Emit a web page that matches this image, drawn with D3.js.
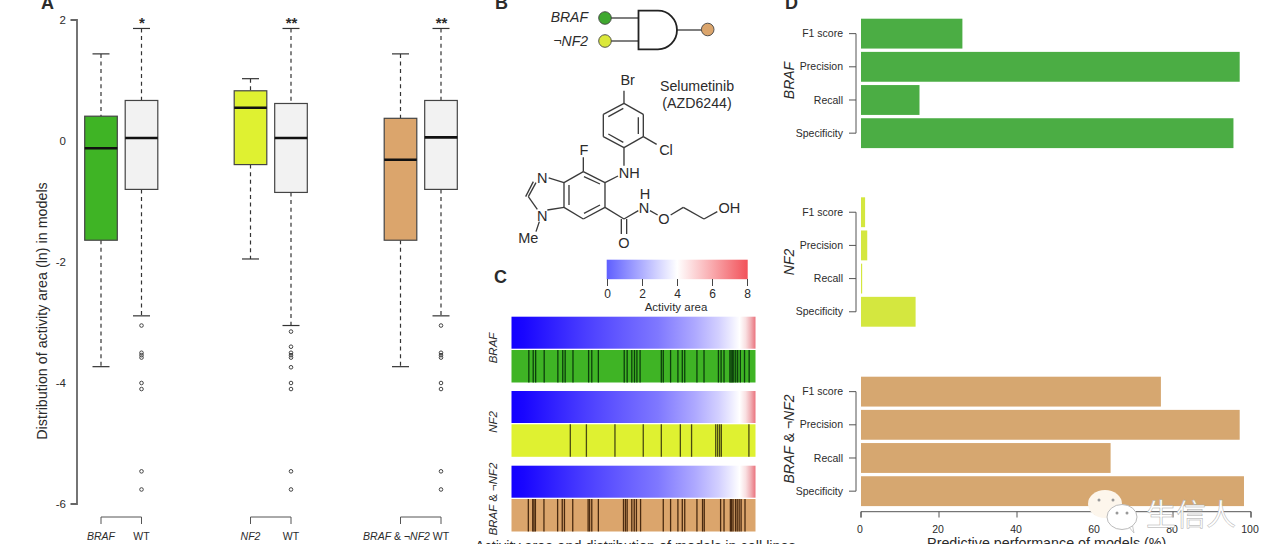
<!DOCTYPE html>
<html><head><meta charset="utf-8">
<script src="https://cdn.jsdelivr.net/npm/d3@7"></script>
<style>html,body{margin:0;padding:0;background:#fff;overflow:hidden}svg{display:block}text{font-family:"Liberation Sans",Arial,sans-serif;fill:#2b2b2b}</style>
</head><body><svg id="c" width="1280" height="544"></svg>
<script>
// ---- Panel A data
const boxNames=["BRAF","WT","NF2","WT","BRAF & ¬NF2","WT"];
const boxFills=["#3fb425","#f2f2f2","#dff131","#f2f2f2","#dba56c","#f2f2f2"];
const boxLow=[-3.73,-2.89,-1.95,-3.05,-3.73,-2.89];
const boxQ1=[-1.64,-0.80,-0.39,-0.85,-1.64,-0.80];
const boxMed=[-0.12,0.05,0.55,0.05,-0.31,0.06];
const boxQ3=[0.41,0.67,0.83,0.62,0.375,0.67];
const boxHigh=[1.44,1.86,1.03,1.86,1.44,1.86];
const outliersWT1=[-3.05,-3.50,-3.54,-3.58,-4.0,-4.10,-5.46,-5.76];
const outliersWT2=[-3.15,-3.40,-3.50,-3.54,-3.58,-3.74,-4.0,-4.10,-5.46,-5.76];
const stars=["*","**","**"];
const yTicksA=[-6,-4,-2,0,2];
// ---- Panel C data
const barLabelsC=["BRAF","NF2","BRAF & ¬NF2"];
const barColorsC=["#3fb425","#dff131","#dba56c"];
const barTickColorsC=["#0c3f0c","#4a4a12","#4a2a10"];
const ranksBRAF=[7.1,8.9,9.9,13.4,19,21,22,25.2,31.6,32.9,35.6,46.2,47.4,49.3,50.4,51.4,52.7,61.4,62.2,65.2,68.2,70,71,76,78.9,84.8,85.9,87.1,89.5,90,90.5,91.1,91.9,92.7,93.8,95.5,97.4];
const ranksNF2=[24.1,30.7,42.4,54,61.4,69.2,73.8,83.7,84.5,85.3,86,97.3];
const ranksBoth=[6.9,8.7,9.2,9.8,13.3,18.9,20.8,21.7,25.1,31.4,32,32.9,35.6,45.9,46.7,47.4,49.3,50.3,51.2,52.9,62.2,65.2,68.2,70,71,76,78.3,79,85.7,87.1,89.7,90.2,90.8,91.8,92.5,93.3,94.1,95.7];
const heatRank=[0,5,30,60,75,85,90,93.5,96,98,100];
const heatActivity=[0,0.1,1.0,2.0,2.7,3.3,3.7,4.0,4.8,6.0,7.2];
const scaleTicks=[0,2,4,6,8];
// ---- Panel D data
const metrics=["F1 score","Precision","Recall","Specificity"];
const perfBRAF=[26,97.1,15,95.5];
const perfNF2=[1.05,1.6,0.3,14];
const perfBoth=[76.9,97.1,64,98.2];
const perfColors=["#4bad44","#d4e73f","#d6a770"];
const perfTicks=[0,20,40,60,80,100];

const svg=d3.select("#c");
function txt(g,x,y,s,o={}){const t=g.append("text").attr("x",x).attr("y",y).text(s).attr("font-size",o.size||10).attr("text-anchor",o.anchor||"middle");
 if(o.italic)t.attr("font-style","italic");if(o.bold)t.attr("font-weight","bold");if(o.rot!=null)t.attr("transform",`rotate(${o.rot} ${x} ${y})`);return t;}
function geneLabel(g,tf,size){const t=g.append("text").attr("transform",tf).attr("text-anchor","middle").attr("font-size",size);
 t.append("tspan").attr("font-style","italic").text("BRAF");t.append("tspan").text(" & ");t.append("tspan").attr("font-style","italic").text("¬NF2");return t;}

// ===== Panel A
const A=svg.append("g");
const yA=d3.scaleLinear().domain([-6,2]).range([504,20]);
const xA=d3.scaleOrdinal().domain([0,1,2,3,4,5]).range([101,141.5,250.5,291,400.5,441]);
A.append("path").attr("d",`M70.5,${yA(2)}H77V${yA(-6)}H70.5`).attr("fill","none").attr("stroke","#666").attr("stroke-width",1.8);
yTicksA.forEach(v=>txt(A,66,yA(v)+3.5,v,{size:11.5,anchor:"end"}));
txt(A,47,311,"Distribution of activity area (ln) in models",{size:14.3,rot:-90});
boxNames.forEach((n,i)=>{
 const cx=xA(i),hw=16.3,capw=8.5,g=A.append("g"),dash="4,3.6";
 g.append("line").attr("x1",cx).attr("x2",cx).attr("y1",yA(boxHigh[i])).attr("y2",yA(boxQ3[i])).attr("stroke","#333").attr("stroke-width",1.2).attr("stroke-dasharray",dash);
 g.append("line").attr("x1",cx).attr("x2",cx).attr("y1",yA(boxQ1[i])).attr("y2",yA(boxLow[i])).attr("stroke","#333").attr("stroke-width",1.2).attr("stroke-dasharray",dash);
 [boxHigh[i],boxLow[i]].forEach(v=>g.append("line").attr("x1",cx-capw).attr("x2",cx+capw).attr("y1",yA(v)).attr("y2",yA(v)).attr("stroke","#333").attr("stroke-width",1.2));
 g.append("rect").attr("x",cx-hw).attr("width",2*hw).attr("y",yA(boxQ3[i])).attr("height",yA(boxQ1[i])-yA(boxQ3[i])).attr("fill",boxFills[i]).attr("stroke","#444").attr("stroke-width",1.2);
 g.append("line").attr("x1",cx-hw).attr("x2",cx+hw).attr("y1",yA(boxMed[i])).attr("y2",yA(boxMed[i])).attr("stroke","#111").attr("stroke-width",2.6);
 if(i%2==1){
  const o=i==3?outliersWT2:outliersWT1;
  g.selectAll("circle").data(o).join("circle").attr("cx",cx).attr("cy",d=>yA(d)).attr("r",1.8).attr("fill","none").attr("stroke","#444").attr("stroke-width",1);
  txt(g,cx+0.5,28.3,stars[(i-1)/2],{size:15,bold:true});
  txt(A,cx,540,"WT",{size:10.5});
 }
});
[0,2,4].forEach(i=>A.append("path").attr("d",`M${xA(i)},524V517H${xA(i+1)}V524`).attr("fill","none").attr("stroke","#555").attr("stroke-width",1));
txt(A,101,540,boxNames[0],{size:10.5,italic:true});
txt(A,250.5,540,boxNames[2],{size:10.5,italic:true});
geneLabel(A,"translate(396.5,540)",10.5);
[["A",41,9],["B",495,9],["C",494,283],["D",785,9]].forEach(p=>txt(svg,p[1],p[2],p[0],{size:18,bold:true,anchor:"start"}));

// ===== Panel B gate
const B=svg.append("g");
B.append("path").attr("d","M611,18H638M611,41H638M677,30H702").attr("stroke","#555").attr("stroke-width",1.3).attr("fill","none");
B.append("path").attr("d","M638.5,10.7H658A19,19.3 0 0 1 658,49.3H638.5Z").attr("fill","#fff").attr("stroke","#222").attr("stroke-width",1.8);
[[605,18,"#3fa82f"],[605,41,"#dbe83a"],[707.7,29.5,"#dba56c"]].forEach(c=>B.append("circle").attr("cx",c[0]).attr("cy",c[1]).attr("r",6.3).attr("fill",c[2]).attr("stroke","#444").attr("stroke-width",.9));
txt(B,588,22,"BRAF",{size:14,italic:true,anchor:"end"});
txt(B,588,45.7,"¬NF2",{size:14,italic:true,anchor:"end"});
const mol=B.append("g").attr("transform","translate(480,0) scale(0.3333)").attr("fill","none").attr("stroke","#3a3a3a").attr("stroke-width",4);
const bonds=[[432,272,432,310],[432,310,490,343],[490,343,490,410],[490,410,432,443],[432,443,370,410],[370,410,370,343],[370,343,432,310],
[385,350,430,325],[475,352,475,402],[430,427,385,402],
[490,410,530,433],[432,443,432,497],[414,528,375,548],[375,548,310,515],[310,515,252,548],[252,548,252,622],[252,622,310,657],[310,657,375,622],[375,622,375,548],
[360,552,312,530],[267,555,267,615],[312,640,360,615],
[310,515,310,472],[252,548,206,534],[168,548,145,590],[160,545,137,590],[145,590,172,628],[202,630,252,622],[178,665,168,695],
[375,622,432,657],[424,657,424,702],[440,657,440,702],[432,657,475,632],[510,632,533,645],[572,645,610,622],[610,622,672,657],[672,657,712,635]];
mol.selectAll("line").data(bonds).join("line").attr("x1",d=>d[0]).attr("y1",d=>d[1]).attr("x2",d=>d[2]).attr("y2",d=>d[3]);
[[443,256,"Br"],[558,466,"Cl"],[312,466,"F"],[448,534,"NH"],[187,548,"N"],[187,663,"N"],[145,728,"Me"],[492,638,"N"],[495,598,"H"],[552,671,"O"],[432,743,"O"],[748,638,"OH"]].forEach(a=>{
 B.append("text").attr("x",480+a[0]/3).attr("y",a[1]/3).attr("text-anchor","middle").attr("font-size",14.5).text(a[2]);});
txt(B,697,91,"Selumetinib",{size:14.2});
txt(B,697,108,"(AZD6244)",{size:14.2});

// ===== Panel C
const C=svg.append("g");
const defs=svg.append("defs");
const cbar=d3.scaleLinear().domain([0,4,8]).range(["#5f5fff","#ffffff","#f2525a"]);
const heat=d3.scaleLinear().domain([0,1,2,3,4,6,8]).range(["#1300ff","#4a3dff","#7f78ff","#c0bcff","#ffffff","#f0b0b5","#e84a5a"]);
const gc=defs.append("linearGradient").attr("id","gbar");
scaleTicks.concat([1,3,5,7]).sort((a,b)=>a-b).forEach(v=>gc.append("stop").attr("offset",(v/8*100)+"%").attr("stop-color",cbar(v)));
const xBar=d3.scaleLinear().domain([0,8]).range([607.5,747.5]);
C.append("rect").attr("x",606.7).attr("y",259.7).attr("width",141).attr("height",19.5).attr("fill","url(#gbar)");
scaleTicks.forEach(v=>{C.append("line").attr("x1",xBar(v)).attr("x2",xBar(v)).attr("y1",279).attr("y2",286).attr("stroke","#444").attr("stroke-width",1);
 txt(C,xBar(v),298,v,{size:12});});
txt(C,676,310.5,"Activity area",{size:11.5});
const gh=defs.append("linearGradient").attr("id","gheat");
heatRank.forEach((r,i)=>gh.append("stop").attr("offset",r+"%").attr("stop-color",heat(heatActivity[i])));
const xRank=d3.scaleLinear().domain([0,100]).range([511.5,755.5]);
const rowTops=[316.7,391,465.7];
[ranksBRAF,ranksNF2,ranksBoth].forEach((ranks,i)=>{
 const t=rowTops[i];
 C.append("rect").attr("x",xRank(0)).attr("y",t).attr("width",xRank(100)-xRank(0)).attr("height",32).attr("fill","url(#gheat)");
 C.append("rect").attr("x",xRank(0)).attr("y",t+33.3).attr("width",xRank(100)-xRank(0)).attr("height",32.5).attr("fill",barColorsC[i]);
 C.append("g").selectAll("line").data(ranks).join("line").attr("x1",d=>xRank(d)).attr("x2",d=>xRank(d)).attr("y1",t+33.3).attr("y2",t+65.8).attr("stroke",barTickColorsC[i]).attr("stroke-width",1.3);
});
txt(C,496.7,348,barLabelsC[0],{size:11.5,italic:true,rot:-90});
txt(C,496.7,422,barLabelsC[1],{size:11.5,italic:true,rot:-90});
geneLabel(C,"translate(496.7,499) rotate(-90)",11.4);
txt(C,475,551,"Activity area and distribution of models in cell lines",{size:14.4,anchor:"start"});

// ===== Panel D
const D=svg.append("g");
const xD=d3.scaleLinear().domain([0,100]).range([861,1251]);
const groupTops=[18.7,197.3,376.7];
const groupVals=[perfBRAF,perfNF2,perfBoth];
groupVals.forEach((vals,gi)=>{
 const y=d3.scaleBand().domain(metrics).range([groupTops[gi],groupTops[gi]+129.4]).paddingInner(0.1).paddingOuter(0);
 D.append("g").selectAll("rect").data(metrics).join("rect").attr("x",xD(0)).attr("y",d=>y(d)).attr("width",(d,i)=>xD(vals[i])-xD(0)).attr("height",y.bandwidth()).attr("fill",perfColors[gi]);
 const mids=metrics.map(m=>y(m)+y.bandwidth()/2);
 D.append("path").attr("d",`M849,${mids[0]}H856V${mids[3]}H849`).attr("fill","none").attr("stroke","#555").attr("stroke-width",1);
 D.append("path").attr("d",`M849,${mids[1]}H856M849,${mids[2]}H856`).attr("fill","none").attr("stroke","#555").attr("stroke-width",1);
 metrics.forEach((m,i)=>txt(D,843,mids[i]+3.6,m,{size:10.5,anchor:"end"}));
});
txt(D,794,80.5,"BRAF",{size:14,italic:true,rot:-90});
txt(D,794,262,"NF2",{size:14,italic:true,rot:-90});
geneLabel(D,"translate(794,439) rotate(-90)",14);
D.append("path").attr("d",`M${xD(0)},517.5V511.7H${xD(100)}V517.5`).attr("fill","none").attr("stroke","#555").attr("stroke-width",1);
perfTicks.forEach(v=>{D.append("line").attr("x1",xD(v)).attr("x2",xD(v)).attr("y1",511.7).attr("y2",517.5).attr("stroke","#555");
 txt(D,xD(v)-1,533,v,{size:10.5});});
txt(D,1046.7,548,"Predictive performance of models (%)",{size:14.3});

// ===== Watermark
const W=svg.append("g");
W.append("path").attr("d","M1090,514L1094,526L1102,516Z").attr("fill","#fff");
W.append("ellipse").attr("cx",1105).attr("cy",504).attr("rx",17).attr("ry",14).attr("fill","#fdf6ec");
W.append("path").attr("d","M1128,526L1134,533L1132,523Z").attr("fill","#fff").attr("stroke","#bbb").attr("stroke-width",.8);
W.append("ellipse").attr("cx",1122).attr("cy",517).attr("rx",15).attr("ry",12.5).attr("fill","#fff").attr("stroke","#bbb").attr("stroke-width",1);
[[1099,500],[1113,500],[1117,513],[1127,513]].forEach(p=>W.append("circle").attr("cx",p[0]).attr("cy",p[1]).attr("r",1.5).attr("fill","#999"));
W.append("text").attr("x",1146).attr("y",525).attr("font-size",30).style("font-family",'"Noto Sans CJK SC"').style("fill","#fff").style("stroke","#aaa").style("stroke-width",.5).text("生信人");
</script></body></html>
